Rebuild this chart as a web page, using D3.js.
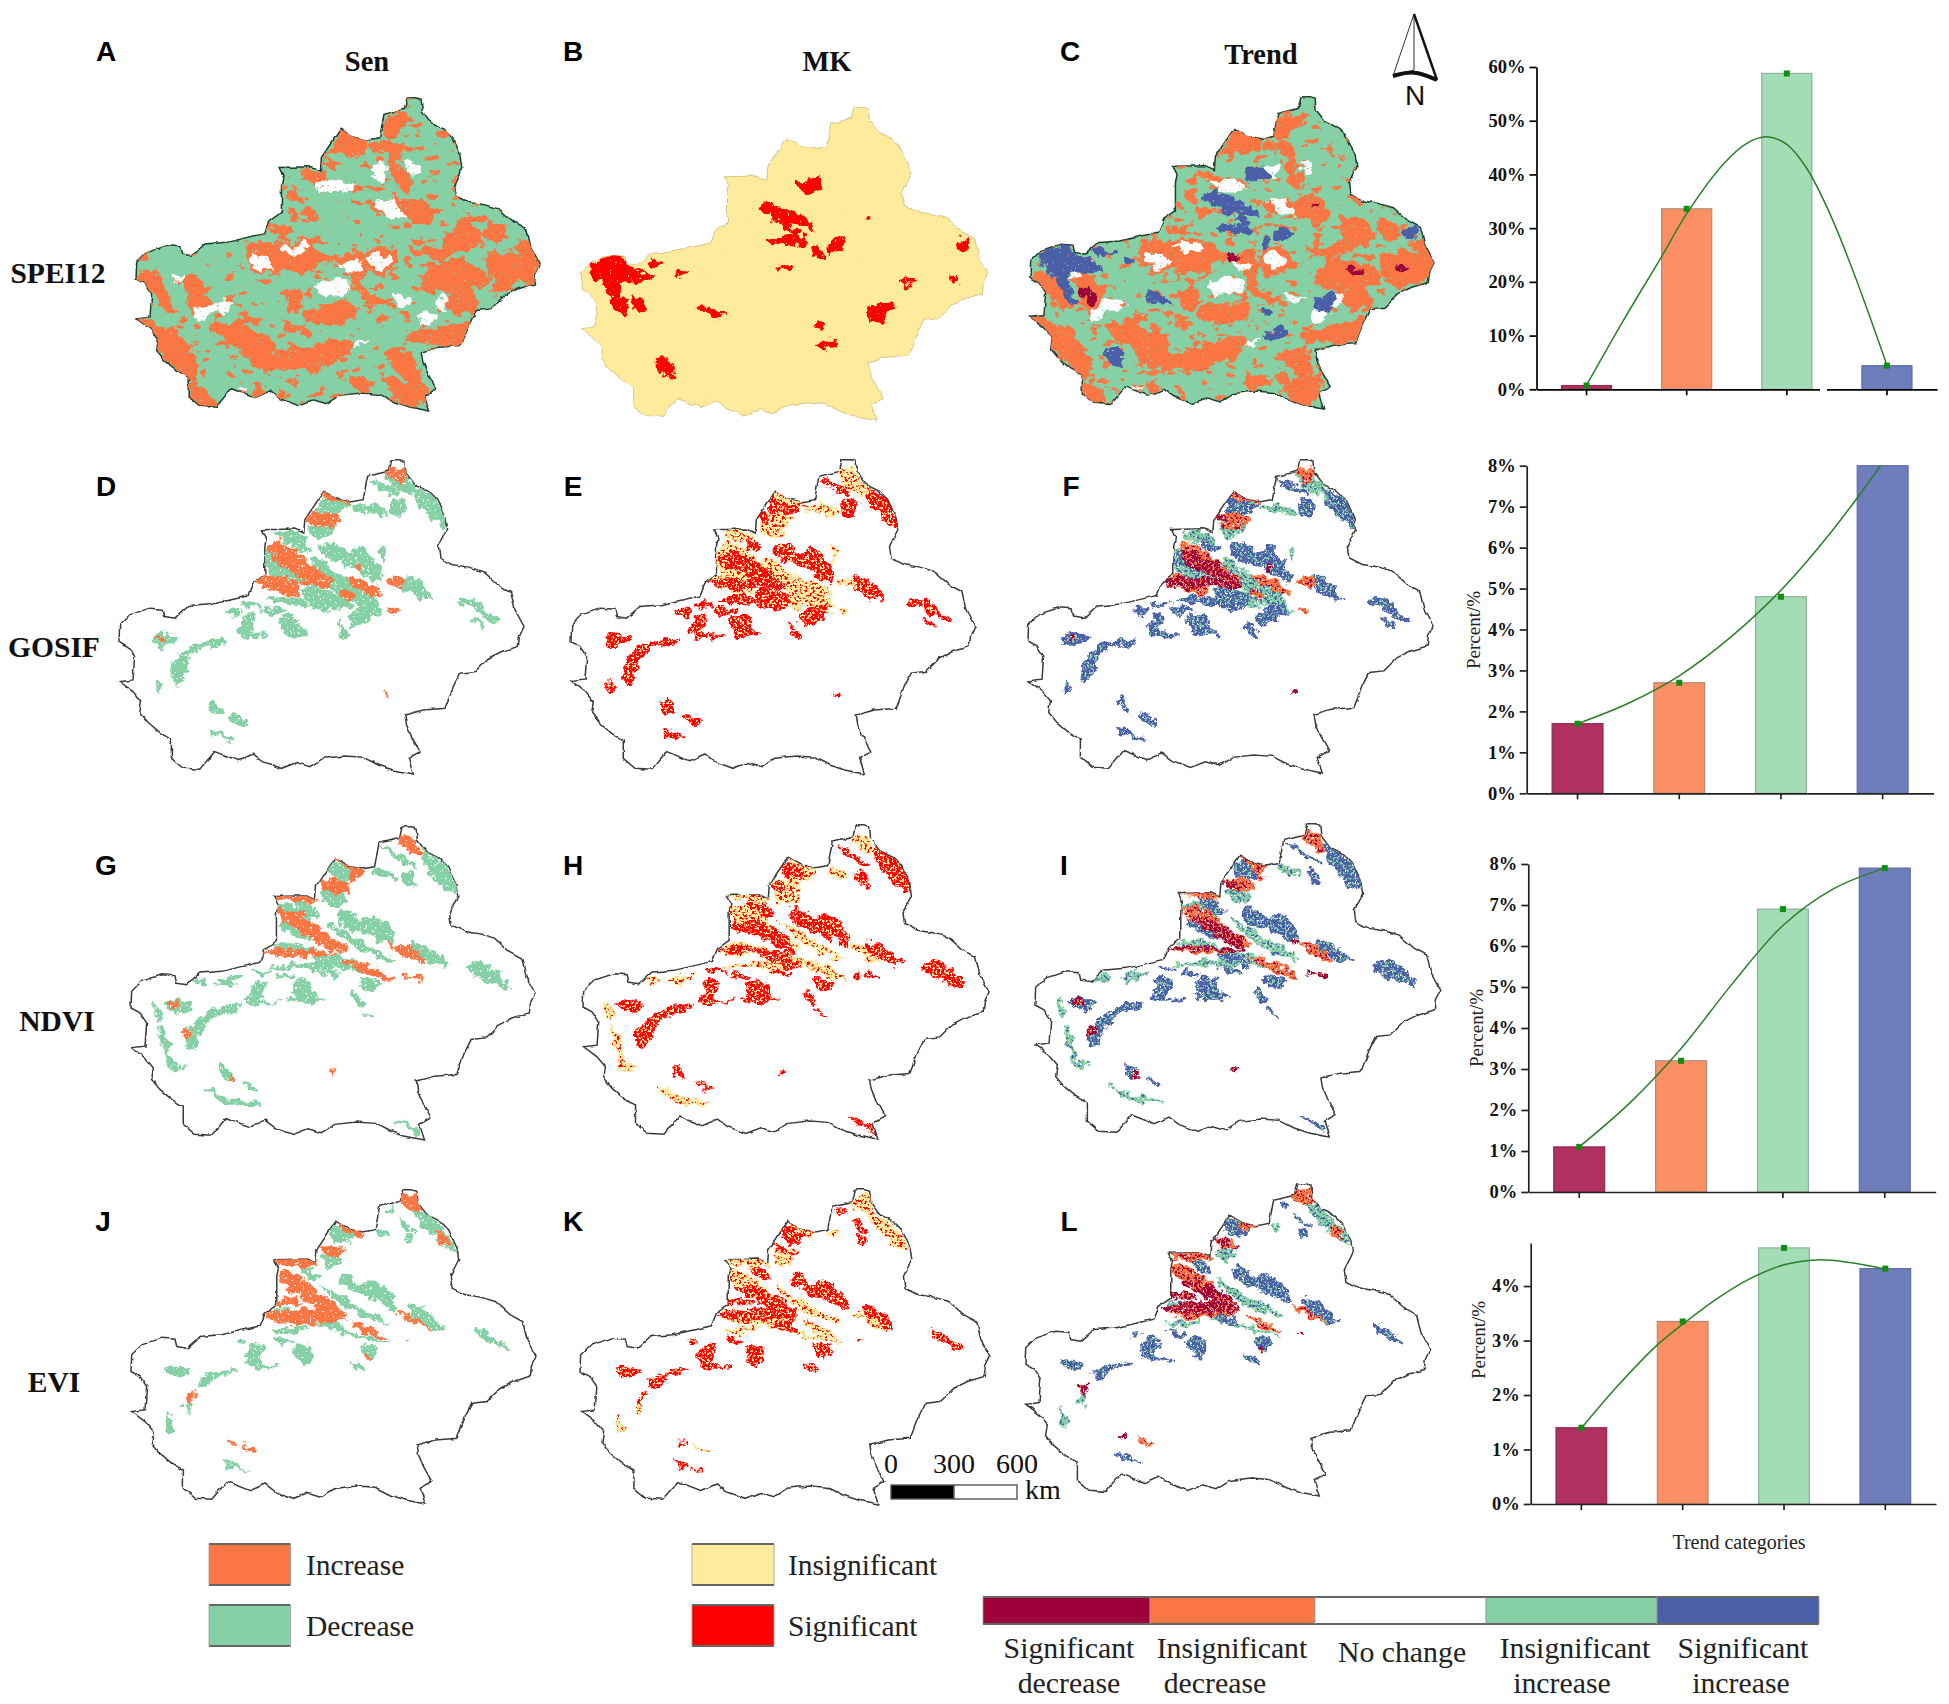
<!DOCTYPE html>
<html><head><meta charset="utf-8">
<script src="https://cdn.jsdelivr.net/npm/d3@7"></script>
<style>html,body{margin:0;background:#fff}svg{display:block}</style></head>
<body><svg id="c" width="1949" height="1704"></svg>
<script>
// ---------- chart data ----------
const categories = ["Significant decrease","Insignificant decrease","Insignificant increase","Significant increase"];
const speiValues  = [0.7,33.6,58.8,4.4];
const gosifValues = [1.7,2.7,4.8,8.0];
const ndviValues  = [1.1,3.2,6.9,7.9];
const eviValues   = [1.4,3.35,4.7,4.32];
const speiCurve  = [[0,0.8],[0.37,12.9],[0.75,24.7],[1,32.7],[1.37,42],[1.6,45.8],[1.8,47],[2,45.6],[2.2,41.1],[2.43,32.7],[2.67,21.6],[3,4.5]];
const gosifCurve = [[0,1.7],[0.5,2.2],[1,2.87],[1.5,3.8],[2,4.96],[2.5,6.4],[2.98,8]];
const ndviCurve  = [[0,1.1],[0.5,2.18],[1,3.5],[1.5,5.07],[2,6.5],[2.5,7.4],[3,7.9]];
const eviCurve   = [[0,1.39],[0.35,2.15],[0.75,2.92],[1,3.3],[1.34,3.77],[1.67,4.14],[2,4.39],[2.33,4.48],[2.65,4.43],[3,4.31]];
const speiTicks=[0,10,20,30,40,50,60], eightTicks=[0,1,2,3,4,5,6,7,8], eviTicks=[0,1,2,3,4];
// ---------- map data (region outline, patches by trend class) ----------
const outline=[[875,30],[900,30],[915,35],[918,70],[945,105],[985,125],[1010,150],[1035,205],[1040,240],[1015,290],[1020,325],[1060,345],[1105,352],[1150,365],[1195,405],[1232,425],[1245,480],[1272,530],[1258,560],[1255,590],[1205,605],[1165,625],[1125,665],[1080,670],[1060,710],[1035,775],[970,780],[915,795],[920,825],[935,860],[960,905],[925,925],[940,972],[880,960],[835,945],[790,922],[735,918],[670,925],[630,950],[590,938],[545,955],[490,935],[460,912],[415,932],[345,905],[300,958],[250,955],[215,925],[215,870],[180,850],[145,820],[120,790],[125,755],[100,725],[60,695],[100,690],[105,620],[85,590],[58,575],[60,525],[90,495],[150,475],[190,478],[195,500],[225,505],[265,470],[330,465],[395,450],[445,438],[460,400],[495,375],[495,290],[500,265],[488,240],[585,238],[612,250],[615,210],[672,125],[710,148],[750,157],[790,150],[803,80],[865,65],[872,32]];
const speiOrange=[[[885,575],[920,540],[960,520],[1010,530],[1060,550],[1085,575],[1060,600],[1000,610],[950,618],[905,605]],[[850,480],[920,490],[960,460],[985,420],[1010,395],[1040,410],[1070,450],[1040,480],[1000,490],[950,515],[900,510]],[[1085,510],[1130,505],[1180,500],[1240,530],[1220,575],[1180,590],[1130,610],[1100,590]],[[1170,470],[1210,470],[1225,520],[1190,500]],[[780,180],[820,175],[820,240],[860,290],[830,310],[800,250],[790,200]],[[735,170],[800,175],[795,195],[740,190]],[[775,100],[860,95],[830,125],[790,160],[770,150]],[[840,340],[885,335],[925,380],[900,415],[860,400],[815,385],[750,380],[735,355],[790,345]],[[640,135],[720,160],[720,195],[680,205],[620,195],[590,225],[600,210],[630,170]],[[490,320],[520,325],[525,350],[495,345]],[[530,255],[590,260],[600,290],[560,285]],[[360,480],[470,470],[555,465],[610,510],[700,505],[720,550],[700,600],[790,640],[740,650],[690,610],[660,540],[600,530],[530,560],[460,555],[380,545]],[[720,490],[800,495],[810,520],[790,560],[730,550]],[[530,680],[600,655],[690,665],[695,690],[620,715],[550,700]],[[250,720],[310,715],[400,740],[440,760],[450,800],[520,785],[670,765],[660,800],[590,835],[500,850],[390,845],[350,800],[290,760]],[[35,700],[70,700],[110,730],[140,720],[200,810],[215,860],[185,880],[140,830],[100,790],[80,740]],[[190,900],[215,890],[260,955],[225,958],[190,935]],[[40,560],[90,560],[130,620],[170,650],[130,670],[90,620],[50,600]],[[180,560],[230,590],[250,640],[210,680],[185,640]],[[790,790],[860,800],[885,880],[900,930],[850,960],[800,910],[840,880],[790,830]],[[680,870],[740,890],[700,915]],[[770,870],[830,890],[790,900]],[[390,885],[420,920],[395,925]],[[850,745],[1000,710],[1030,700],[1010,770],[920,770],[860,760]],[[960,640],[1030,610],[1050,660],[1000,680]],[[480,620],[520,610],[525,660],[490,680]],[[440,420],[500,425],[490,445],[450,440]],[[530,360],[570,385],[540,400]],[[1090,400],[1140,440],[1110,470],[1080,440]],[[320,720],[380,700],[340,690]],[[470,700],[520,720],[490,735]]];
const speiWhite=[[[570,590],[610,580],[670,590],[660,620],[610,620],[570,610]],[[215,670],[280,645],[315,660],[250,685],[225,705]],[[880,685],[920,680],[915,705],[880,705]],[[565,285],[600,290],[640,285],[680,300],[650,315],[590,310]],[[740,240],[780,240],[760,280],[740,265]],[[750,340],[790,345],[830,390],[780,385]],[[375,510],[420,510],[440,540],[385,540]],[[470,480],[550,480],[520,500],[480,495]],[[650,530],[695,535],[690,550],[650,545]],[[730,510],[790,510],[770,545],[735,535]],[[840,230],[880,240],[860,265]],[[800,630],[860,640],[810,645]],[[910,650],[960,630],[955,670]],[[150,565],[175,560],[160,590]],[[680,770],[730,760],[690,775]],[[330,905],[370,905],[350,915]]];
const speiBlue=[[[60,510],[125,480],[165,490],[170,510],[240,540],[250,560],[190,555],[145,570],[170,650],[155,660],[125,620],[100,560],[60,530]],[[225,490],[275,505],[245,510]],[[320,520],[350,525],[315,540]],[[385,625],[425,635],[455,655],[420,655],[385,640]],[[255,795],[295,790],[310,845],[270,825]],[[725,680],[755,680],[750,695],[725,695]],[[735,740],[800,735],[800,750],[750,755]],[[890,640],[950,630],[930,665],[925,680],[890,665]],[[670,262],[730,250],[750,270],[715,295],[680,275]],[[555,340],[600,320],[625,335],[690,360],[720,400],[670,385],[620,380],[590,365]],[[590,425],[640,420],[690,435],[680,445],[600,435]],[[640,380],[670,400],[695,435],[665,415]],[[770,430],[810,435],[800,465],[770,460]],[[730,455],[755,480],[720,485]],[[1150,435],[1190,430],[1175,460]]];
const speiCrimson=[[[620,510],[665,510],[640,530]],[[980,555],[1025,550],[1005,570]],[[180,600],[220,625],[215,650],[190,640]],[[1135,540],[1155,550],[1140,558]],[[878,358],[895,360],[890,370]]];

const gosifGreen=[[[600,225],[660,210],[670,240],[620,260]],[[720,170],[800,170],[830,195],[740,180]],[[900,100],[930,130],[990,200],[1000,230],[960,200],[925,165]],[[610,320],[680,370],[780,430],[810,490],[760,470],[690,430],[620,370]],[[580,420],[700,440],[720,470],[620,450]],[[490,250],[560,250],[580,275],[520,270]],[[815,290],[825,300],[815,330]],[[835,70],[885,80],[895,130],[850,110]],[[470,300],[600,350],[640,400],[480,370]]];
const gosifBlue=[[[640,285],[680,285],[710,310],[750,295],[790,340],[815,375],[805,395],[760,370],[700,340],[655,325],[635,300]],[[880,380],[920,395],[945,420],[965,445],[920,435],[880,410]],[[630,150],[715,155],[670,195],[625,185]],[[470,320],[540,325],[590,350],[540,350],[480,340]],[[590,415],[660,430],[680,460],[640,480],[590,450]],[[840,160],[880,150],[870,200],[850,195]],[[920,130],[960,135],[1000,190],[1005,230],[970,205],[930,170]],[[555,275],[595,295],[580,305],[555,290]],[[505,505],[560,500],[565,530],[590,550],[530,555],[515,530]],[[400,500],[425,495],[420,545],[475,555],[430,562],[395,555],[385,530],[405,520]],[[345,480],[385,478],[370,495]],[[715,495],[760,490],[780,505],[740,520],[730,530]],[[185,650],[240,590],[290,575],[345,570],[345,580],[290,585],[240,610],[205,695],[190,690]],[[130,560],[155,550],[205,565],[170,580],[145,590]],[[140,695],[150,720],[140,725]],[[300,748],[315,755],[330,785],[305,780]],[[360,795],[410,812],[400,825],[365,805]],[[1045,455],[1095,450],[1125,485],[1165,510],[1140,510],[1085,470]],[[400,462],[450,462],[405,470]],[[455,475],[520,480],[470,490]],[[470,450],[545,440],[600,465],[540,460]],[[680,515],[715,560],[690,550]],[[780,90],[830,110],[860,130],[820,120]],[[300,840],[330,850],[370,865],[320,855]],[[730,480],[800,470],[790,490]],[[1085,505],[1120,525],[1100,520]]];
const gosifOrange=[[[480,280],[530,285],[590,340],[660,390],[640,400],[560,345],[480,300]],[[440,375],[480,380],[560,410],[560,430],[500,420],[440,395]],[[590,205],[640,190],[685,205],[650,230],[610,225]],[[700,380],[770,400],[810,430],[780,430]],[[830,395],[870,390],[880,410]],[[640,125],[715,155],[650,150]],[[830,60],[880,60],[870,100]],[[690,425],[730,430],[720,450]],[[835,478],[858,478],[855,487]]];
const gosifCrimson=[[[490,315],[560,330],[620,370],[660,410],[640,410],[560,370],[495,340]],[[440,395],[510,385],[560,390],[660,400],[660,410],[580,402],[500,415]],[[590,200],[615,200],[610,220]],[[145,558],[162,560],[155,572]],[[738,345],[750,350],[745,362]],[[818,727],[826,727],[824,735]]];

const ndviGreen=[[[585,225],[640,225],[660,255],[610,260]],[[750,150],[800,170],[810,180],[750,170]],[[900,120],[960,170],[990,220],[940,190]],[[440,385],[500,380],[580,400],[520,410]],[[560,400],[680,430],[790,480],[700,460]],[[125,680],[140,740],[180,750],[130,750]],[[240,810],[300,840],[400,860],[300,855]],[[450,270],[520,270],[560,310]],[[85,550],[100,590],[92,610]],[[100,630],[130,690],[115,695]],[[600,310],[700,370],[800,430],[700,395]],[[200,490],[240,480],[230,500]],[[430,455],[560,435],[620,455],[500,450]],[[270,490],[350,475],[300,500]]];
const ndviBlue=[[[640,280],[680,285],[700,310],[740,295],[800,345],[800,385],[770,370],[700,340],[650,325]],[[860,380],[900,385],[930,410],[970,440],[910,430],[870,410]],[[610,140],[700,155],[660,185],[615,170]],[[470,310],[500,330],[560,370],[500,345],[465,330]],[[560,420],[620,420],[660,450],[610,445]],[[570,460],[640,470],[620,475]],[[510,250],[560,265],[580,295],[550,295],[520,270]],[[500,500],[555,495],[560,520],[580,550],[520,550],[505,530]],[[385,490],[420,495],[405,555],[465,550],[400,560],[360,550],[380,530]],[[705,490],[740,490],[765,500],[730,520]],[[180,650],[240,590],[335,565],[335,575],[250,605],[200,690],[180,690]],[[120,565],[150,550],[195,565],[165,585]],[[1025,450],[1080,440],[1155,510],[1120,505]],[[890,90],[930,120],[975,160],[995,220],[960,210],[915,160],[890,120]],[[770,85],[820,110],[870,150],[830,130]],[[840,165],[860,170],[865,210],[840,190]],[[450,480],[505,480],[460,470]],[[385,458],[440,465],[400,465]],[[290,745],[320,780],[295,780]],[[680,520],[710,560],[690,555]],[[810,905],[870,930],[880,950],[845,925]],[[350,790],[395,815],[380,815]],[[490,545],[600,545],[520,552]],[[710,580],[745,605],[725,595]]];
const ndviOrange=[[[460,280],[530,290],[600,350],[660,390],[620,390],[540,340],[460,300]],[[415,400],[500,395],[590,410],[500,415]],[[585,200],[650,190],[670,220],[620,225]],[[630,120],[710,155],[680,190],[670,160]],[[445,235],[540,235],[575,250],[480,245]],[[820,60],[860,60],[880,110],[830,80]],[[660,430],[740,450],[800,490],[720,465]],[[810,390],[860,395],[900,440]]];
const ndviCrimson=[[[490,310],[540,320],[610,355],[645,405],[600,385],[540,350]],[[415,400],[480,395],[600,405],[640,410],[500,405]],[[585,205],[610,200],[620,215],[590,215]],[[130,560],[155,555],[160,570],[140,570]],[[175,640],[195,635],[190,655],[175,660]],[[785,375],[805,380],[800,390]],[[830,475],[850,475],[845,480]],[[860,470],[895,485],[870,482]],[[612,768],[620,757],[618,773]],[[310,775],[325,782],[312,785]]];

const eviGreen=[[[590,210],[640,210],[640,230],[600,235]],[[860,65],[930,110],[990,190],[960,180],[900,130]],[[440,370],[520,370],[640,400],[500,395]],[[560,410],[640,430],[790,465],[700,450]],[[750,135],[785,140],[760,150]],[[125,680],[140,735],[125,735]],[[180,640],[195,640],[190,675],[178,670]],[[590,300],[700,360],[790,410],[680,375]],[[440,430],[540,420],[480,440]]];
const eviBlue=[[[650,260],[680,270],[690,300],[740,280],[800,335],[805,365],[750,340],[700,320],[670,305],[640,290]],[[850,360],[900,370],[930,405],[950,425],[900,420],[870,395]],[[615,125],[690,140],[650,170],[620,155]],[[520,235],[560,255],[580,275],[550,275]],[[580,395],[630,400],[650,430],[600,420]],[[500,485],[550,480],[555,510],[530,535],[515,510]],[[385,470],[415,475],[400,530],[460,535],[395,540],[360,520]],[[705,470],[760,490],[725,510]],[[335,460],[360,460],[345,470]],[[445,450],[500,465],[470,470]],[[120,545],[150,540],[190,550],[165,570]],[[220,580],[290,550],[335,548],[280,565],[225,600]],[[680,525],[715,545],[695,550]],[[830,145],[860,150],[855,175]],[[780,65],[805,75],[780,80]],[[820,100],[870,140],[840,125]],[[1050,430],[1090,440],[1120,465],[1150,490],[1100,470]],[[285,815],[330,835],[370,845],[310,835]]];
const eviOrange=[[[460,255],[520,270],[590,330],[650,375],[560,340],[460,280]],[[420,385],[520,395],[660,395],[500,410]],[[585,180],[650,190],[620,205]],[[630,100],[710,135],[690,150],[650,125]],[[445,220],[545,215],[575,235],[480,235]],[[815,45],[875,20],[880,70],[830,60]],[[930,130],[970,170],[940,170]],[[680,405],[780,450],[720,440]],[[810,375],[860,390],[920,430]],[[350,770],[395,795],[370,790]]];
const eviCrimson=[[[480,305],[550,310],[620,345],[650,385],[590,370],[540,340]],[[430,350],[490,335],[530,350],[460,355]],[[420,385],[500,370],[600,365],[650,390],[510,395]],[[585,180],[610,175],[620,195]],[[630,105],[705,135],[665,125]],[[640,200],[660,190],[635,205]],[[180,630],[205,610],[190,640]],[[830,458],[850,458],[840,463]],[[305,760],[325,765],[310,768]],[[720,505],[730,510],[722,512]]];

const legendSen=["Increase","Decrease"], legendMK=["Insignificant","Significant"];
const barLabels=[["Significant","decrease"],["Insignificant","decrease"],["No change"],["Insignificant","increase"],["Significant","increase"]];
const scaleKm=[0,300,600];
const columnTitles=["Sen","MK","Trend"], rowTitles=["SPEI12","GOSIF","NDVI","EVI"], panelLetters="ABCDEFGHIJKL".split("");

// ---------- colours ----------
const C={sd:"#9E003A",id:"#FC7643",ii:"#85D1A5",si:"#4A5FA8",red:"#FF0000",yel:"#FEEB9B",white:"#FFFFFF"};
const barColors=["#B03060","#FC8F63","#A3DDB5","#6E7DBB"], barEdges=["#8f2a50","#b08a78","#8fb09a","#5f6da5"];
const serif="'Liberation Serif','Times New Roman',serif", sans="'Liberation Sans',Arial,sans-serif";
const svg=d3.select("#c");
const defs=svg.append("defs");
function makeFilter(id,freq,scale,thr,seed){
  const f=defs.append("filter").attr("id",id).attr("x","-5%").attr("y","-5%").attr("width","110%").attr("height","110%").attr("color-interpolation-filters","sRGB");
  f.append("feTurbulence").attr("type","fractalNoise").attr("baseFrequency",freq).attr("numOctaves",3).attr("seed",4).attr("result","n");
  f.append("feDisplacementMap").attr("in","SourceGraphic").attr("in2","n").attr("scale",scale).attr("xChannelSelector","R").attr("yChannelSelector","G").attr("result","d");
  if(thr!==null){
    f.append("feTurbulence").attr("type","fractalNoise").attr("baseFrequency",0.4).attr("numOctaves",2).attr("seed",seed||9).attr("result","s");
    f.append("feColorMatrix").attr("in","s").attr("type","matrix").attr("values",`0 0 0 0 0 0 0 0 0 0 0 0 0 0 0 14 0 0 0 ${thr}`).attr("result","m");
    f.append("feComposite").attr("in","d").attr("in2","m").attr("operator","in");
  }
}
makeFilter("edge",0.09,4,null);
makeFilter("roughA",0.09,16,-3.0);
makeFilter("roughB",0.12,12,-4.0);
makeFilter("fleckB",0.12,12,-7.6,21);
// scattered small flecks of the "increase" class across the fully covered SPEI maps
const mottle=defs.append("filter").attr("id","mottle").attr("x",0).attr("y",0).attr("width","100%").attr("height","100%").attr("color-interpolation-filters","sRGB");
mottle.append("feTurbulence").attr("type","fractalNoise").attr("baseFrequency","0.08 0.13").attr("numOctaves",3).attr("seed",12).attr("result","s");
mottle.append("feColorMatrix").attr("in","s").attr("type","matrix").attr("values","0 0 0 0 0 0 0 0 0 0 0 0 0 0 0 16 0 0 0 -9.9").attr("result","m");
mottle.append("feComposite").attr("in","SourceGraphic").attr("in2","m").attr("operator","in");

// ---------- maps ----------
const rows=[
 {dx:[30,1245],dy:[32,975],base:true,layers:[["id",speiOrange],["nc",speiWhite],["si",speiBlue],["sd",speiCrimson]],f:"roughA",sw:1.5},
 {dx:[25,1243],dy:[28,972],layers:[["ii",gosifGreen],["si",gosifBlue],["id",gosifOrange],["sd",gosifCrimson]],f:"roughB",fleck:"fleckB",sw:2.5},
 {dx:[15,1232],dy:[25,970],layers:[["ii",ndviGreen],["si",ndviBlue],["id",ndviOrange],["sd",ndviCrimson]],f:"roughB",fleck:"fleckB",sw:2},
 {dx:[15,1232],dy:[8,950],layers:[["ii",eviGreen],["si",eviBlue],["id",eviOrange],["sd",eviCrimson]],f:"roughB",fleck:"fleckB",sw:1.5}];
const panelBox=[[136,541,97,412],[581,989,106,422],[1030,1435,96,410],
 [119,525,459,775],[571,976,459,775],[1028,1434,459,774],
 [131,536,826,1141],[583,990,825,1140],[1035,1441,823,1138],
 [131,537,1189,1505],[581,991,1189,1505],[1025,1431,1183,1497]];
const colorFor=[
 k=>({sd:C.id,id:C.id,ii:C.ii,si:C.ii,nc:C.white})[k],
 k=>({sd:C.red,si:C.red,id:C.yel,ii:C.yel,nc:C.yel})[k],
 k=>({sd:C.sd,id:C.id,ii:C.ii,si:C.si,nc:C.white})[k]];
const baseFor=[C.ii,C.yel,C.ii];
const fleckOf={si:"ii",ii:"si",id:"sd",sd:"id"};
rows.forEach((row,r)=>[0,1,2].forEach(col=>{
  const i=r*3+col,b=panelBox[i];
  const ox=d3.scaleLinear([58,1275],[b[0],b[1]]), oy=d3.scaleLinear([28,975],[b[2],b[3]]);
  const px=d3.scaleLinear(row.dx,[b[0],b[1]]), py=d3.scaleLinear(row.dy,[b[2],b[3]]);
  const oLine=d3.line(d=>ox(d[0]),d=>oy(d[1])).curve(d3.curveLinearClosed);
  const pLine=d3.line(d=>px(d[0]),d=>py(d[1])).curve(d3.curveCatmullRomClosed.alpha(0.5));
  const cid="clip"+i;
  defs.append("clipPath").attr("id",cid).append("path").attr("d",oLine(outline));
  const g=svg.append("g");
  g.append("path").attr("d",oLine(outline)).attr("filter","url(#edge)")
    .attr("fill",row.base?baseFor[col]:"#fff")
    .attr("stroke",(r===0&&col===1)?"#c9b97a":(r===0?"#1f3d2e":"#3a3a3a")).attr("stroke-width",(r===0&&col===1)?0.8:1.5);
  const clip=g.append("g").attr("clip-path",`url(#${cid})`);
  if(row.base&&col!==1) clip.append("rect").attr("x",b[0]).attr("y",b[2]).attr("width",b[1]-b[0]).attr("height",b[3]-b[2]).attr("fill",C.id).attr("filter","url(#mottle)");
  const inner=clip.append("g").attr("filter",`url(#${row.f})`);
  row.layers.forEach(([k,polys])=>{
    const col0=colorFor[col](k);
    inner.selectAll(null).data(polys).join("path").attr("d",d=>pLine(d)).attr("fill",col0).attr("stroke",col0).attr("stroke-width",row.sw).attr("stroke-linejoin","round");
  });
  if(row.fleck){
    const flecks=clip.append("g").attr("filter",`url(#${row.fleck})`);
    row.layers.forEach(([k,polys])=>{
      const col1=colorFor[col](fleckOf[k]);
      flecks.selectAll(null).data(polys).join("path").attr("d",d=>pLine(d)).attr("fill",col1);
    });
  }
}));

// ---------- text around maps ----------
const titleX=[367,827,1261], titleY=[71,71,64];
svg.selectAll(null).data(columnTitles).join("text").text(d=>d).attr("x",(d,i)=>titleX[i]).attr("y",(d,i)=>titleY[i])
  .attr("text-anchor","middle").attr("font-family",serif).attr("font-weight","bold").attr("font-size",28.5).attr("fill","#111");
const rowX=[58,54,57,54], rowY=[283,657,1031,1392];
svg.selectAll(null).data(rowTitles).join("text").text(d=>d).attr("x",(d,i)=>rowX[i]).attr("y",(d,i)=>rowY[i])
  .attr("text-anchor","middle").attr("font-family",serif).attr("font-weight","bold").attr("font-size",29.5).attr("fill","#111");
const letterX=[106,573,1070,106,573,1071,106,573,1064,103,573,1069], letterY=[61,61,61,496,496,496,875,875,875,1231,1231,1231];
svg.selectAll(null).data(panelLetters).join("text").text(d=>d).attr("x",(d,i)=>letterX[i]).attr("y",(d,i)=>letterY[i])
  .attr("text-anchor","middle").attr("font-family",sans).attr("font-weight","bold").attr("font-size",28).attr("fill","#000");

// north arrow
const na=d3.line();
const arrowMid=[1414,14], arrowL=[1393,76], arrowR=[1437,80], arrowC=[1414,70];
svg.append("path").attr("d",na([arrowMid,arrowL,arrowC,arrowMid])).attr("fill","#fff").attr("stroke","#333").attr("stroke-width",1);
svg.append("path").attr("d",na([arrowMid,arrowR])).attr("stroke","#111").attr("stroke-width",2.4).attr("fill","none");
svg.append("path").attr("d",d3.line().curve(d3.curveBasis)([arrowL,arrowC,arrowR])).attr("stroke","#111").attr("stroke-width",4).attr("fill","none");
svg.append("text").text("N").attr("x",1415).attr("y",105).attr("text-anchor","middle").attr("font-family",sans).attr("font-size",28).attr("fill","#111");

// scale bar
const km=d3.scaleLinear([0,600],[891,1017]);
[[0,300,"#000"],[300,600,"#fff"]].forEach(s=>svg.append("rect").attr("x",km(s[0])).attr("width",km(s[1])-km(s[0])).attr("y",1485).attr("height",14).attr("fill",s[2]).attr("stroke","#555").attr("stroke-width",1.4));
svg.selectAll(null).data(scaleKm).join("text").text(d=>d).attr("x",d=>km(d)).attr("y",1473).attr("text-anchor","middle").attr("font-family",serif).attr("font-size",28).attr("fill","#111");
svg.append("text").text("km").attr("x",1025).attr("y",1499).attr("font-family",serif).attr("font-size",28).attr("fill","#111");

// ---------- bar charts ----------
const charts=[
 {vals:speiValues,curve:speiCurve,ticks:speiTicks,max:60,x0:1536.5,x1:1937,y0:389.3,y1:67,gap:[1820,1827],axis:"#000"},
 {vals:gosifValues,curve:gosifCurve,ticks:eightTicks,max:8,x0:1526.7,x1:1933.5,y0:793.3,y1:465.7,label:[1473,630],axis:"#222"},
 {vals:ndviValues,curve:ndviCurve,ticks:eightTicks,max:8,x0:1528.3,x1:1935.7,y0:1192,y1:864,label:[1476,1028],axis:"#222",hide:[1]},
 {vals:eviValues,curve:eviCurve,ticks:eviTicks,max:4.79,x0:1530.7,x1:1936,y0:1504,y1:1243,label:[1478,1340],axis:"#222"}];
charts.forEach(c=>{
  const x=d3.scaleBand(categories,[c.x0,c.x1]).paddingInner(.5).paddingOuter(.25);
  const y=d3.scaleLinear([0,c.max],[c.y0,c.y1]);
  const cx=x.bandwidth()/2, xi=d3.scaleLinear([0,3],[x(categories[0])+cx,x(categories[3])+cx]);
  const g=svg.append("g");
  g.selectAll("rect").data(c.vals).join("rect").attr("x",(d,i)=>x(categories[i])).attr("width",x.bandwidth())
    .attr("y",d=>y(d)).attr("height",d=>y(0)-y(d)).attr("fill",(d,i)=>barColors[i]).attr("stroke",(d,i)=>barEdges[i]).attr("stroke-width",1.2);
  const ax=g.append("g").attr("transform",`translate(0,${c.y0})`).call(d3.axisBottom(x).tickFormat("").tickSize(6).tickSizeOuter(0));
  ax.selectAll(".tick").filter((d,i)=>c.hide&&c.hide.includes(i)).remove();
  const ay=g.append("g").attr("transform",`translate(${c.x0},0)`).call(d3.axisLeft(y).tickValues(c.ticks).tickFormat(d=>d+"%").tickSize(7).tickPadding(4).tickSizeOuter(0));
  [ax,ay].forEach(a=>{a.selectAll("path,line").attr("stroke",c.axis).attr("stroke-width",1.7);});
  ay.selectAll("text").attr("font-family",serif).attr("font-weight","bold").attr("font-size",18.5).attr("fill","#111");
  if(c.gap) g.append("rect").attr("x",c.gap[0]).attr("width",c.gap[1]-c.gap[0]).attr("y",c.y0-2).attr("height",4).attr("fill","#fff");
  g.append("path").attr("d",d3.line(d=>xi(d[0]),d=>y(d[1])).curve(d3.curveCatmullRom.alpha(.5))(c.curve)).attr("fill","none").attr("stroke","#2a7f2a").attr("stroke-width",1.5);
  g.selectAll("rect.m").data(c.vals.filter(v=>v<c.max).map(v=>[c.vals.indexOf(v),v])).join("rect").attr("class","m")
    .attr("x",d=>xi(d[0])-3).attr("y",d=>y(d[1])-3).attr("width",6).attr("height",6).attr("fill","#0e8f0e");
  if(c.label) g.append("text").text("Percent/%").attr("transform",`translate(${c.label[0]},${c.label[1]}) rotate(-90)`)
    .attr("text-anchor","middle").attr("dy","0.35em").attr("font-family",serif).attr("font-size",19).attr("fill","#222");
});
svg.append("text").text("Trend categories").attr("x",1739).attr("y",1549).attr("text-anchor","middle").attr("font-family",serif).attr("font-size",20).attr("fill","#222");

// ---------- legends ----------
function swatch(x,y,w,h,fill){
  svg.append("rect").attr("x",x).attr("y",y).attr("width",w).attr("height",h).attr("fill",fill);
  [y,y+h].forEach(v=>svg.append("line").attr("x1",x).attr("x2",x+w).attr("y1",v).attr("y2",v).attr("stroke","#666").attr("stroke-width",1.8));
  [x,x+w].forEach(v=>svg.append("line").attr("x1",v).attr("x2",v).attr("y1",y).attr("y2",y+h).attr("stroke","#999").attr("stroke-width",.8));
}
const legY=[1544,1605];
legendSen.forEach((t,i)=>{swatch(209,legY[i],81.5,41,[C.id,C.ii][i]);
  svg.append("text").text(t).attr("x",306).attr("y",legY[i]+31).attr("font-family",serif).attr("font-size",29.5).attr("fill","#222");});
legendMK.forEach((t,i)=>{swatch(692,legY[i],82,41,[C.yel,C.red][i]);
  svg.append("text").text(t).attr("x",788).attr("y",legY[i]+31).attr("font-family",serif).attr("font-size",29.5).attr("fill","#222");});
const barEdgesX=[983,1150,1315,1486,1657,1819], barFill=[C.sd,C.id,C.white,C.ii,C.si];
barFill.forEach((f,i)=>swatch(barEdgesX[i],1597,barEdgesX[i+1]-barEdgesX[i],27,f));
const labelX=[[1069,1069],[1232,1215],[1402],[1575,1562],[1743,1741]];
const labelY=[[1658,1693],[1658,1693],[1662],[1658,1693],[1658,1693]];
barLabels.forEach((lines,i)=>lines.forEach((t,j)=>svg.append("text").text(t).attr("x",labelX[i][j]).attr("y",labelY[i][j])
  .attr("text-anchor","middle").attr("font-family",serif).attr("font-size",29.8).attr("fill","#222")));
</script></body></html>
